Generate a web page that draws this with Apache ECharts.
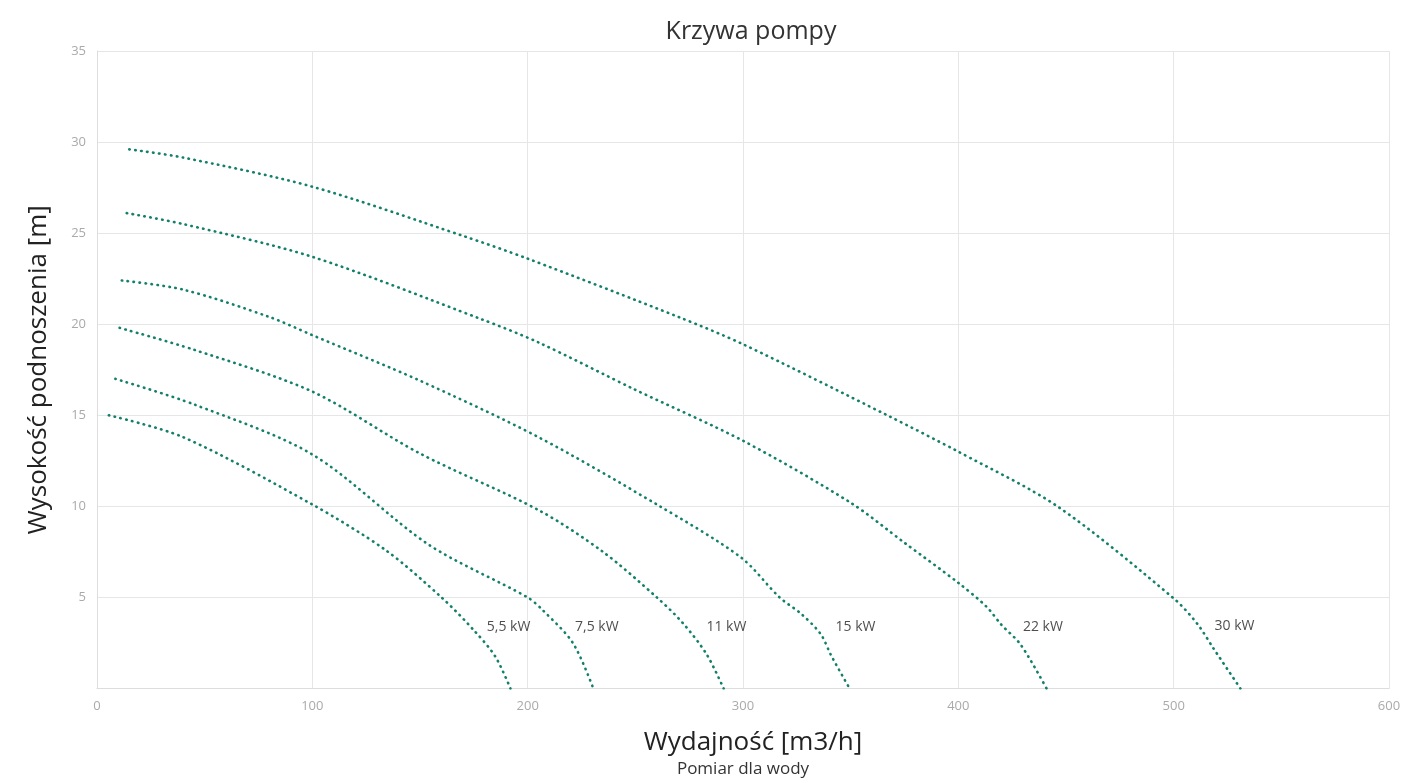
<!DOCTYPE html>
<html>
<head>
<meta charset="utf-8">
<script src="https://cdn.jsdelivr.net/npm/echarts@6/dist/echarts.min.js"></script>
<style>
  html, body { margin: 0; padding: 0; background: #fff; }
  #chart { width: 1405px; height: 783px; }
</style>
</head>
<body>
<div id="chart"></div>
<script>
// dane: [wydajność m3/h, wysokość m]
var c55 = [[5.5, 15.0], [40, 13.8], [100, 10.1], [134, 7.6], [160, 5.0], [175, 3.2], [185, 1.75], [192, 0]];
var c75 = [[8.5, 17.0], [45, 15.6], [100, 12.85], [154, 7.9], [200, 5.0], [207, 4.3], [221, 2.5], [230.5, 0]];
var c11 = [[10.5, 19.8], [45, 18.6], [100, 16.3], [150, 12.9], [205, 9.8], [235, 7.5], [260, 5.0], [272, 3.6], [283, 1.9], [291, 0]];
var c15 = [[11.5, 22.4], [40, 21.9], [80, 20.4], [100, 19.4], [150, 16.9], [205, 13.8], [260, 10.1], [299, 7.2], [317, 5.0], [327, 4.1], [336, 3.0], [341, 1.8], [349.5, 0]];
var c22 = [[13.8, 26.1], [40, 25.5], [100, 23.7], [178, 20.3], [205, 19.0], [250, 16.4], [300, 13.6], [350, 10.2], [375, 8.0], [400, 5.8], [413, 4.5], [420, 3.5], [429, 2.4], [441, 0]];
var c30 = [[15, 29.6], [40, 29.15], [100, 27.55], [170, 24.85], [200, 23.6], [270, 20.4], [300, 18.9], [367, 15.0], [400, 13.0], [446, 10.0], [500, 4.95], [511, 3.55], [518.5, 2.2], [531, 0]];

var curveNames = ['5,5 kW', '7,5 kW', '11 kW', '15 kW', '22 kW', '30 kW'];
var curves = [c55, c75, c11, c15, c22, c30];
// pozycje etykiet mocy
var labelX = [181, 222, 283, 343, 430, 519];
var labelY = [3.4, 3.4, 3.4, 3.4, 3.4, 3.45];

var xTicks = { min: 0, max: 600, interval: 100 };
var yTicks = { min: 0, max: 35, interval: 5 };

var chart = echarts.init(document.getElementById('chart'));

var series = curves.map(function (c, i) {
    return {
        name: curveNames[i],
        type: 'line',
        data: c,
        smooth: 0.3,
        showSymbol: false,
        lineStyle: { color: '#14806a', width: 2.6, type: [0.5, 5.5], cap: 'round' }
    };
});

series.push({
    type: 'scatter',
    symbolSize: 0,
    silent: true,
    data: labelX.map(function (x, i) { return [x, labelY[i], curveNames[i]]; }),
    label: {
        show: true,
        position: 'right',
        distance: 0,
        formatter: function (p) { return p.value[2]; },
        color: '#222',
        fontSize: 14,
        fontFamily: 'Open Sans'
    }
});

var option = {
    textStyle: { fontFamily: 'Open Sans' },
    title: {
        text: 'Krzywa pompy',
        left: 746,
        top: 14,
        textAlign: 'center',
        textStyle: { fontSize: 25, fontWeight: 'normal', color: '#333', fontFamily: 'Open Sans' }
    },
    grid: { left: 97, right: 16, top: 51, bottom: 91 },
    xAxis: {
        type: 'value',
        min: xTicks.min,
        max: xTicks.max,
        interval: xTicks.interval,
        name: '{a|Wydajność [m3/h]}\n{b|Pomiar dla wody}',
        nameLocation: 'middle',
        nameGap: 38,
        nameTextStyle: {
            align: 'center',
            verticalAlign: 'top',
            rich: {
                a: { fontSize: 26, color: '#222', fontFamily: 'Open Sans', lineHeight: 32, padding: [0, 0, 0, 20] },
                b: { fontSize: 17, color: '#333', fontFamily: 'Open Sans', lineHeight: 22 }
            }
        },
        axisLine: { show: true, lineStyle: { color: '#ddd' } },
        axisTick: { show: false },
        axisLabel: { color: '#aaa', fontSize: 13, margin: 11 },
        splitLine: { show: true, lineStyle: { color: '#e6e6e6' } }
    },
    yAxis: {
        type: 'value',
        min: yTicks.min,
        max: yTicks.max,
        interval: yTicks.interval,
        name: 'Wysokość podnoszenia [m]',
        nameLocation: 'middle',
        nameGap: 45,
        nameTextStyle: { fontSize: 26, color: '#222', fontFamily: 'Open Sans' },
        axisLine: { show: true, lineStyle: { color: '#ddd' } },
        axisTick: { show: false },
        axisLabel: {
            color: '#aaa',
            fontSize: 13,
            margin: 11,
            formatter: function (v) { return v === 0 ? '' : v; }
        },
        splitLine: { show: true, lineStyle: { color: '#e6e6e6' } }
    },
    series: series
};

chart.setOption(option);
</script>
</body>
</html>
